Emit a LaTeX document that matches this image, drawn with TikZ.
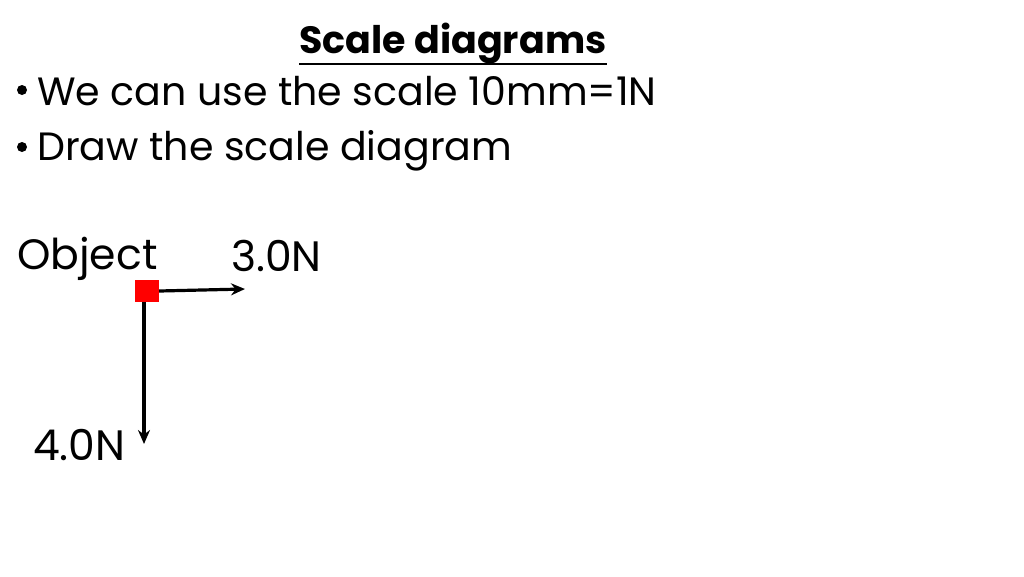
\documentclass[tikz,border=0pt]{standalone}
\usepackage{fontspec}
\setmainfont{Poppins}
\usetikzlibrary{arrows.meta}
\begin{document}
\begin{tikzpicture}[x=1pt,y=-1pt,
  txt/.style={inner sep=0pt,anchor=base west,font=\fontsize{39.5}{48}\selectfont},
  lbl/.style={inner sep=0pt,anchor=base west,font=\fontsize{42.5}{50}\selectfont},
  force/.style={line width=3.2pt,-{Stealth[length=14pt,width=12pt]}}]
\useasboundingbox (0,0) rectangle (1024,576);
\node[inner sep=0pt,anchor=base,font=\bfseries\fontsize{38}{46}\selectfont] (title) at (453,53) {Scale diagrams};
\draw[line width=2.6pt] ([yshift=-11pt]title.base west) -- ([yshift=-11pt]title.base east);
\node[txt] (b1) at (37,105) {We can use the scale 10mm=1N};
\node[txt] (b2) at (37,160) {Draw the scale diagram};
\fill (22,90) circle (5pt);
\fill (22,147) circle (5pt);
\node[lbl] (obj) at (17,269) {Object};
\node[lbl] (f3) at (231,271) {3.0N};
\node[lbl] (f4) at (33,460) {4.0N};
\node[fill=red,minimum width=24pt,minimum height=22pt,inner sep=0pt] (sq) at (147,291) {};
\coordinate (e3) at (245,289);
\coordinate (e4) at (144,444);
\draw[force] (sq.east) -- (e3);
\draw[force] (sq.south -| e4) -- (e4);
\end{tikzpicture}
\end{document}
